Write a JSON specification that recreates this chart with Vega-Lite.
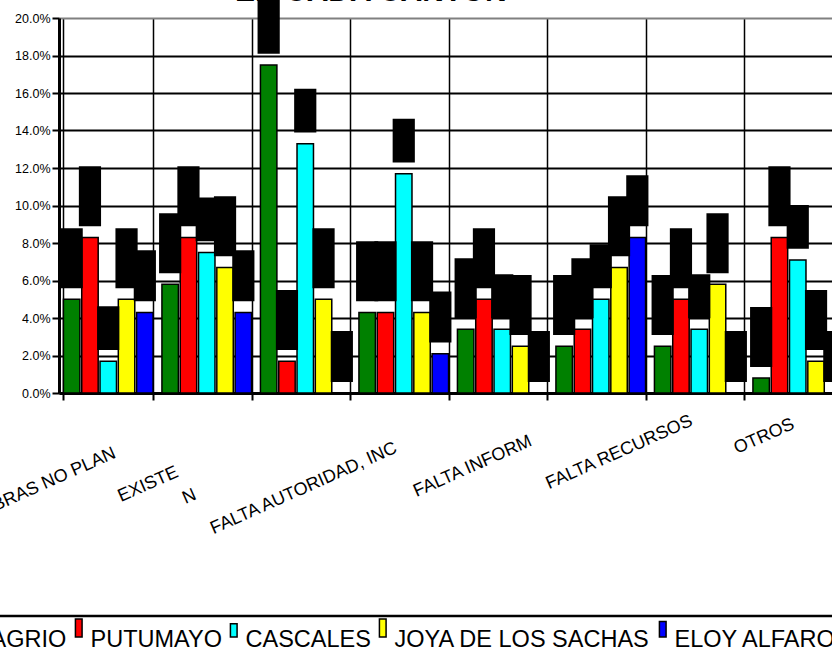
{
  "$schema": "https://vega.github.io/schema/vega-lite/v6.json",
  "width": 788,
  "height": 375,
  "autosize": {"type": "none"},
  "padding": {"left": 59, "top": 18, "right": -15, "bottom": 262},
  "background": "white",
  "config": {"view": {"stroke": null}, "font": "Liberation Sans"},
  "title": {"text": "EN CADA CANTON", "font": "Liberation Sans", "fontSize": 30, "fontWeight": "bold", "color": "black", "anchor": "start", "frame": "group", "dx": 176, "baseline": "alphabetic", "offset": -37.5},
  "data": {"values": [
    {"problema": "OBRAS NO PLAN", "canton": "AGRIO", "pct": 0.050},
    {"problema": "OBRAS NO PLAN", "canton": "PUTUMAYO", "pct": 0.083},
    {"problema": "OBRAS NO PLAN", "canton": "CASCALES", "pct": 0.017},
    {"problema": "OBRAS NO PLAN", "canton": "JOYA DE LOS SACHAS", "pct": 0.050},
    {"problema": "OBRAS NO PLAN", "canton": "ELOY ALFARO", "pct": 0.043},
    {"problema": "EXISTE N", "canton": "AGRIO", "pct": 0.058},
    {"problema": "EXISTE N", "canton": "PUTUMAYO", "pct": 0.083},
    {"problema": "EXISTE N", "canton": "CASCALES", "pct": 0.075},
    {"problema": "EXISTE N", "canton": "JOYA DE LOS SACHAS", "pct": 0.067},
    {"problema": "EXISTE N", "canton": "ELOY ALFARO", "pct": 0.043},
    {"problema": "FALTA AUTORIDAD, INC", "canton": "AGRIO", "pct": 0.175},
    {"problema": "FALTA AUTORIDAD, INC", "canton": "PUTUMAYO", "pct": 0.017},
    {"problema": "FALTA AUTORIDAD, INC", "canton": "CASCALES", "pct": 0.133},
    {"problema": "FALTA AUTORIDAD, INC", "canton": "JOYA DE LOS SACHAS", "pct": 0.050},
    {"problema": "FALTA AUTORIDAD, INC", "canton": "ELOY ALFARO", "pct": 0.0},
    {"problema": "C4", "canton": "AGRIO", "pct": 0.043},
    {"problema": "C4", "canton": "PUTUMAYO", "pct": 0.043},
    {"problema": "C4", "canton": "CASCALES", "pct": 0.117},
    {"problema": "C4", "canton": "JOYA DE LOS SACHAS", "pct": 0.043},
    {"problema": "C4", "canton": "ELOY ALFARO", "pct": 0.021},
    {"problema": "FALTA INFORM", "canton": "AGRIO", "pct": 0.034},
    {"problema": "FALTA INFORM", "canton": "PUTUMAYO", "pct": 0.050},
    {"problema": "FALTA INFORM", "canton": "CASCALES", "pct": 0.034},
    {"problema": "FALTA INFORM", "canton": "JOYA DE LOS SACHAS", "pct": 0.025},
    {"problema": "FALTA INFORM", "canton": "ELOY ALFARO", "pct": 0.0},
    {"problema": "FALTA RECURSOS", "canton": "AGRIO", "pct": 0.025},
    {"problema": "FALTA RECURSOS", "canton": "PUTUMAYO", "pct": 0.034},
    {"problema": "FALTA RECURSOS", "canton": "CASCALES", "pct": 0.050},
    {"problema": "FALTA RECURSOS", "canton": "JOYA DE LOS SACHAS", "pct": 0.067},
    {"problema": "FALTA RECURSOS", "canton": "ELOY ALFARO", "pct": 0.083},
    {"problema": "C7", "canton": "AGRIO", "pct": 0.025},
    {"problema": "C7", "canton": "PUTUMAYO", "pct": 0.050},
    {"problema": "C7", "canton": "CASCALES", "pct": 0.034},
    {"problema": "C7", "canton": "JOYA DE LOS SACHAS", "pct": 0.058},
    {"problema": "C7", "canton": "ELOY ALFARO", "pct": 0.0},
    {"problema": "OTROS", "canton": "AGRIO", "pct": 0.008},
    {"problema": "OTROS", "canton": "PUTUMAYO", "pct": 0.083},
    {"problema": "OTROS", "canton": "CASCALES", "pct": 0.071},
    {"problema": "OTROS", "canton": "JOYA DE LOS SACHAS", "pct": 0.017},
    {"problema": "OTROS", "canton": "ELOY ALFARO", "pct": 0.0}
  ]},
  "encoding": {
    "x": {
      "field": "problema", "type": "nominal", "sort": null,
      "scale": {"paddingInner": 0.09, "paddingOuter": 0.045},
      "axis": {
        "title": null, "orient": "bottom", "tickBand": "extent",
        "grid": true, "gridColor": "black", "gridWidth": 1.5,
        "domainColor": "black", "domainWidth": 3,
        "ticks": true, "tickColor": "black", "tickSize": 7, "tickWidth": 2,
        "labelFont": "Liberation Sans", "labelFontSize": 18, "labelColor": "black",
        "labelAngle": -24, "labelAlign": "center", "labelBaseline": "middle",
        "labelLimit": 0, "labelOverlap": false, "labelBound": false, "labelFlush": false,
        "labelLineHeight": 28,
        "labelExpr": "datum.value === 'EXISTE N' ? ['EXISTE', '\u200b\u00a0\u00a0\u00a0\u00a0\u00a0\u00a0\u00a0\u00a0\u00a0\u00a0\u00a0\u00a0\u00a0N'] : (datum.value === 'C4' || datum.value === 'C7' ? '' : datum.value)",
        "labelOffset": {"condition": [
          {"test": "datum.value === 'OBRAS NO PLAN'", "value": -61},
          {"test": "datum.value === 'EXISTE N'", "value": -59},
          {"test": "datum.value === 'FALTA AUTORIDAD, INC'", "value": -2},
          {"test": "datum.value === 'FALTA INFORM'", "value": -30},
          {"test": "datum.value === 'FALTA RECURSOS'", "value": 18},
          {"test": "datum.value === 'OTROS'", "value": -34}
        ], "value": 0},
        "labelPadding": {"condition": [
          {"test": "datum.value === 'OBRAS NO PLAN'", "value": 82},
          {"test": "datum.value === 'EXISTE N'", "value": 84},
          {"test": "datum.value === 'FALTA AUTORIDAD, INC'", "value": 88},
          {"test": "datum.value === 'FALTA INFORM'", "value": 66},
          {"test": "datum.value === 'FALTA RECURSOS'", "value": 52},
          {"test": "datum.value === 'OTROS'", "value": 36}
        ], "value": 40}
      }
    },
    "xOffset": {
      "field": "canton", "type": "nominal",
      "sort": ["AGRIO", "PUTUMAYO", "CASCALES", "JOYA DE LOS SACHAS", "ELOY ALFARO"],
      "scale": {"paddingInner": 0.1, "paddingOuter": 0}
    },
    "y": {
      "field": "pct", "type": "quantitative",
      "scale": {"domain": [0, 0.2], "nice": false},
      "axis": {
        "title": null, "format": ".1%",
        "values": [0, 0.02, 0.04, 0.06, 0.08, 0.1, 0.12, 0.14, 0.16, 0.18, 0.2],
        "grid": true,
        "gridColor": {"condition": {"test": "datum.value >= 0.199", "value": "#808080"}, "value": "black"},
        "gridWidth": 2,
        "domainColor": "black", "domainWidth": 3,
        "tickColor": "black", "tickSize": 7, "tickWidth": 2,
        "labelFont": "Liberation Sans", "labelFontSize": 12.5, "labelColor": "black",
        "labelPadding": 2
      }
    }
  },
  "layer": [
    {
      "mark": {"type": "bar", "stroke": "black", "strokeWidth": 1.5},
      "encoding": {
        "color": {
          "field": "canton", "type": "nominal",
          "sort": ["AGRIO", "PUTUMAYO", "CASCALES", "JOYA DE LOS SACHAS", "ELOY ALFARO"],
          "scale": {"domain": ["AGRIO", "PUTUMAYO", "CASCALES", "JOYA DE LOS SACHAS", "ELOY ALFARO"], "range": ["#008000", "#ff0000", "#00ffff", "#ffff00", "#0000ff"]},
          "legend": {
            "orient": "none", "legendX": -104, "legendY": 598, "direction": "horizontal",
            "title": null, "labelFont": "Liberation Sans", "labelFontSize": 23.5, "labelColor": "black",
            "symbolType": "M-0.72,-1H0.72V1H-0.72Z", "symbolSize": 324,
            "symbolStrokeColor": "black", "symbolStrokeWidth": 1.5, "symbolOpacity": 1,
            "labelOffset": 0, "columnPadding": -1, "padding": 12, "labelLimit": 0,
            "labelBaseline": "middle",
            "strokeColor": "black",
            "encode": {
              "legend": {"update": {"strokeWidth": {"value": 2.5}}},
              "symbols": {"update": {"y": {"value": 12}}},
              "labels": {"update": {"y": {"value": 12}}}
            }
          }
        }
      }
    },
    {
      "mark": {"type": "point", "filled": true, "opacity": 1, "size": 3600, "strokeWidth": 0},
      "encoding": {
        "color": {"value": "black"},
        "shape": {
          "field": "canton", "type": "nominal",
          "scale": {
            "domain": ["AGRIO", "PUTUMAYO", "CASCALES", "JOYA DE LOS SACHAS", "ELOY ALFARO"],
            "range": ["M-0.37,-0.37H0.37V-2.37H-0.37Z", "M-0.37,-0.37H0.37V-2.37H-0.37Z", "M-0.37,-0.37H0.37V-1.83H-0.37Z", "M-0.37,-0.37H0.37V-2.37H-0.37Z", "M-0.37,-0.37H0.37V-2.07H-0.37Z"]
          },
          "legend": null
        }
      }
    }
  ]
}
